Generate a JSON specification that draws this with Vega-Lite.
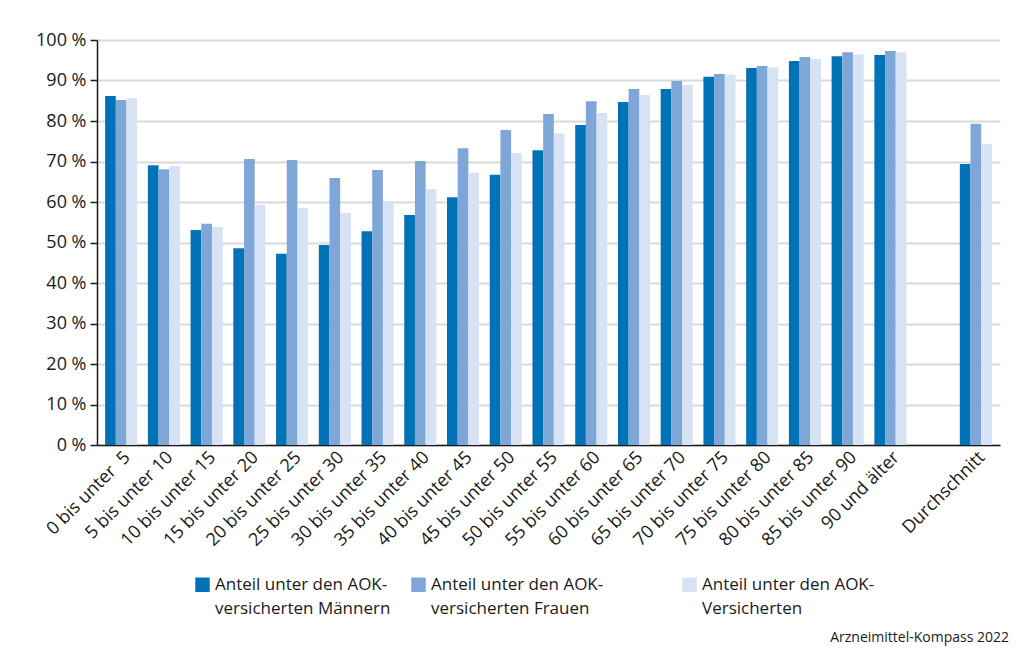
{
  "$schema": "https://vega.github.io/schema/vega-lite/v6.json",
  "autosize": "none",
  "width": 903,
  "height": 405,
  "padding": {"left": 97, "top": 40, "right": 22, "bottom": 210},
  "background": "white",
  "title": {
    "text": "Arzneimittel-Kompass 2022",
    "orient": "bottom",
    "anchor": "end",
    "fontSize": 14,
    "fontWeight": "normal",
    "font": "Open Sans",
    "color": "#1a1a1a",
    "offset": 14,
    "dx": 9
  },
  "data": {
    "values": [
      {"group": "0 bis unter  5", "series": "Anteil unter den AOK-|versicherten Männern", "value": 86.2},
      {"group": "0 bis unter  5", "series": "Anteil unter den AOK-|versicherten Frauen", "value": 85.2},
      {"group": "0 bis unter  5", "series": "Anteil unter den AOK-|Versicherten", "value": 85.7},
      {"group": "5 bis unter 10", "series": "Anteil unter den AOK-|versicherten Männern", "value": 69.1},
      {"group": "5 bis unter 10", "series": "Anteil unter den AOK-|versicherten Frauen", "value": 68.1},
      {"group": "5 bis unter 10", "series": "Anteil unter den AOK-|Versicherten", "value": 68.9},
      {"group": "10 bis unter 15", "series": "Anteil unter den AOK-|versicherten Männern", "value": 53.1},
      {"group": "10 bis unter 15", "series": "Anteil unter den AOK-|versicherten Frauen", "value": 54.6},
      {"group": "10 bis unter 15", "series": "Anteil unter den AOK-|Versicherten", "value": 53.8},
      {"group": "15 bis unter 20", "series": "Anteil unter den AOK-|versicherten Männern", "value": 48.6},
      {"group": "15 bis unter 20", "series": "Anteil unter den AOK-|versicherten Frauen", "value": 70.6},
      {"group": "15 bis unter 20", "series": "Anteil unter den AOK-|Versicherten", "value": 59.3},
      {"group": "20 bis unter 25", "series": "Anteil unter den AOK-|versicherten Männern", "value": 47.2},
      {"group": "20 bis unter 25", "series": "Anteil unter den AOK-|versicherten Frauen", "value": 70.4},
      {"group": "20 bis unter 25", "series": "Anteil unter den AOK-|Versicherten", "value": 58.5},
      {"group": "25 bis unter 30", "series": "Anteil unter den AOK-|versicherten Männern", "value": 49.4},
      {"group": "25 bis unter 30", "series": "Anteil unter den AOK-|versicherten Frauen", "value": 65.9},
      {"group": "25 bis unter 30", "series": "Anteil unter den AOK-|Versicherten", "value": 57.3},
      {"group": "30 bis unter 35", "series": "Anteil unter den AOK-|versicherten Männern", "value": 52.8},
      {"group": "30 bis unter 35", "series": "Anteil unter den AOK-|versicherten Frauen", "value": 67.9},
      {"group": "30 bis unter 35", "series": "Anteil unter den AOK-|Versicherten", "value": 60.2},
      {"group": "35 bis unter 40", "series": "Anteil unter den AOK-|versicherten Männern", "value": 56.8},
      {"group": "35 bis unter 40", "series": "Anteil unter den AOK-|versicherten Frauen", "value": 70.1},
      {"group": "35 bis unter 40", "series": "Anteil unter den AOK-|Versicherten", "value": 63.2},
      {"group": "40 bis unter 45", "series": "Anteil unter den AOK-|versicherten Männern", "value": 61.2},
      {"group": "40 bis unter 45", "series": "Anteil unter den AOK-|versicherten Frauen", "value": 73.3},
      {"group": "40 bis unter 45", "series": "Anteil unter den AOK-|Versicherten", "value": 67.2},
      {"group": "45 bis unter 50", "series": "Anteil unter den AOK-|versicherten Männern", "value": 66.7},
      {"group": "45 bis unter 50", "series": "Anteil unter den AOK-|versicherten Frauen", "value": 77.8},
      {"group": "45 bis unter 50", "series": "Anteil unter den AOK-|Versicherten", "value": 72.1},
      {"group": "50 bis unter 55", "series": "Anteil unter den AOK-|versicherten Männern", "value": 72.8},
      {"group": "50 bis unter 55", "series": "Anteil unter den AOK-|versicherten Frauen", "value": 81.7},
      {"group": "50 bis unter 55", "series": "Anteil unter den AOK-|Versicherten", "value": 77.0},
      {"group": "55 bis unter 60", "series": "Anteil unter den AOK-|versicherten Männern", "value": 79.0},
      {"group": "55 bis unter 60", "series": "Anteil unter den AOK-|versicherten Frauen", "value": 84.9},
      {"group": "55 bis unter 60", "series": "Anteil unter den AOK-|Versicherten", "value": 82.0},
      {"group": "60 bis unter 65", "series": "Anteil unter den AOK-|versicherten Männern", "value": 84.7},
      {"group": "60 bis unter 65", "series": "Anteil unter den AOK-|versicherten Frauen", "value": 87.9},
      {"group": "60 bis unter 65", "series": "Anteil unter den AOK-|Versicherten", "value": 86.4},
      {"group": "65 bis unter 70", "series": "Anteil unter den AOK-|versicherten Männern", "value": 87.9},
      {"group": "65 bis unter 70", "series": "Anteil unter den AOK-|versicherten Frauen", "value": 89.9},
      {"group": "65 bis unter 70", "series": "Anteil unter den AOK-|Versicherten", "value": 88.9},
      {"group": "70 bis unter 75", "series": "Anteil unter den AOK-|versicherten Männern", "value": 90.9},
      {"group": "70 bis unter 75", "series": "Anteil unter den AOK-|versicherten Frauen", "value": 91.6},
      {"group": "70 bis unter 75", "series": "Anteil unter den AOK-|Versicherten", "value": 91.4},
      {"group": "75 bis unter 80", "series": "Anteil unter den AOK-|versicherten Männern", "value": 93.1},
      {"group": "75 bis unter 80", "series": "Anteil unter den AOK-|versicherten Frauen", "value": 93.6},
      {"group": "75 bis unter 80", "series": "Anteil unter den AOK-|Versicherten", "value": 93.3},
      {"group": "80 bis unter 85", "series": "Anteil unter den AOK-|versicherten Männern", "value": 94.8},
      {"group": "80 bis unter 85", "series": "Anteil unter den AOK-|versicherten Frauen", "value": 95.8},
      {"group": "80 bis unter 85", "series": "Anteil unter den AOK-|Versicherten", "value": 95.3},
      {"group": "85 bis unter 90", "series": "Anteil unter den AOK-|versicherten Männern", "value": 96.0},
      {"group": "85 bis unter 90", "series": "Anteil unter den AOK-|versicherten Frauen", "value": 97.0},
      {"group": "85 bis unter 90", "series": "Anteil unter den AOK-|Versicherten", "value": 96.5},
      {"group": "90 und älter", "series": "Anteil unter den AOK-|versicherten Männern", "value": 96.3},
      {"group": "90 und älter", "series": "Anteil unter den AOK-|versicherten Frauen", "value": 97.3},
      {"group": "90 und älter", "series": "Anteil unter den AOK-|Versicherten", "value": 97.0},
      {"group": "Durchschnitt", "series": "Anteil unter den AOK-|versicherten Männern", "value": 69.4},
      {"group": "Durchschnitt", "series": "Anteil unter den AOK-|versicherten Frauen", "value": 79.3},
      {"group": "Durchschnitt", "series": "Anteil unter den AOK-|Versicherten", "value": 74.3}
    ]
  },
  "mark": {"type": "bar"},
  "encoding": {
    "x": {
      "field": "group",
      "type": "nominal",
      "scale": {
        "domain": ["0 bis unter  5", "5 bis unter 10", "10 bis unter 15", "15 bis unter 20", "20 bis unter 25", "25 bis unter 30", "30 bis unter 35", "35 bis unter 40", "40 bis unter 45", "45 bis unter 50", "50 bis unter 55", "55 bis unter 60", "60 bis unter 65", "65 bis unter 70", "70 bis unter 75", "75 bis unter 80", "80 bis unter 85", "85 bis unter 90", "90 und älter", " ", "Durchschnitt"],
        "paddingInner": 0.25,
        "paddingOuter": 0.19
      },
      "axis": {
        "title": null,
        "labelAngle": -45,
        "labelFontSize": 18,
        "labelFont": "Open Sans",
        "labelColor": "#1a1a1a",
        "labelPadding": 3,
        "labelExpr": "replace(datum.label, '  ', ' \u00a0')",
        "ticks": false,
        "domainColor": "#1a1a1a",
        "domainWidth": 1.5,
        "grid": false,
        "labelLimit": 0
      }
    },
    "xOffset": {
      "field": "series",
      "type": "nominal",
      "sort": ["Anteil unter den AOK-|versicherten Männern", "Anteil unter den AOK-|versicherten Frauen", "Anteil unter den AOK-|Versicherten"],
      "scale": {"paddingInner": 0, "paddingOuter": 0}
    },
    "y": {
      "field": "value",
      "type": "quantitative",
      "scale": {"domain": [0, 100]},
      "axis": {
        "title": null,
        "values": [0, 10, 20, 30, 40, 50, 60, 70, 80, 90, 100],
        "labelExpr": "datum.value + ' %'",
        "labelFontSize": 18,
        "labelFont": "Open Sans",
        "labelColor": "#1a1a1a",
        "labelPadding": 4,
        "tickSize": 7,
        "tickColor": "#1a1a1a",
        "tickWidth": 1.5,
        "domainColor": "#1a1a1a",
        "domainWidth": 1.5,
        "gridColor": "#d9d9d9",
        "gridWidth": 1.8
      }
    },
    "color": {
      "field": "series",
      "type": "nominal",
      "scale": {
        "domain": ["Anteil unter den AOK-|versicherten Männern", "Anteil unter den AOK-|versicherten Frauen", "Anteil unter den AOK-|Versicherten"],
        "range": ["#0073b7", "#7ea7d8", "#d8e2f5"]
      },
      "legend": {
        "title": null,
        "orient": "bottom",
        "direction": "horizontal",
        "columns": 3,
        "columnPadding": 19,
        "symbolType": "square",
        "symbolSize": 210,
        "symbolStrokeWidth": 0,
        "labelFontSize": 17,
        "labelFont": "Open Sans",
        "labelColor": "#1a1a1a",
        "labelLimit": 0,
        "labelOffset": 4,
        "labelExpr": "datum.label == 'Anteil unter den AOK-|versicherten Frauen' ? ['Anteil unter den AOK-\u2007\u2007\u2007\u2007\u2007\u2007\u200b', 'versicherten Frauen'] : (datum.label == 'Anteil unter den AOK-|Versicherten' ? ['Anteil unter den AOK-\u2007\u2007\u2007\u200b', 'Versicherten'] : split(datum.label, '|'))",
        "offset": 26,
        "encode": {
          "labels": {"update": {"lineHeight": {"value": 24}}}
        }
      }
    }
  },
  "config": {
    "view": {"stroke": null},
    "legend": {"layout": {"bottom": {"anchor": "middle"}}}
  }
}
